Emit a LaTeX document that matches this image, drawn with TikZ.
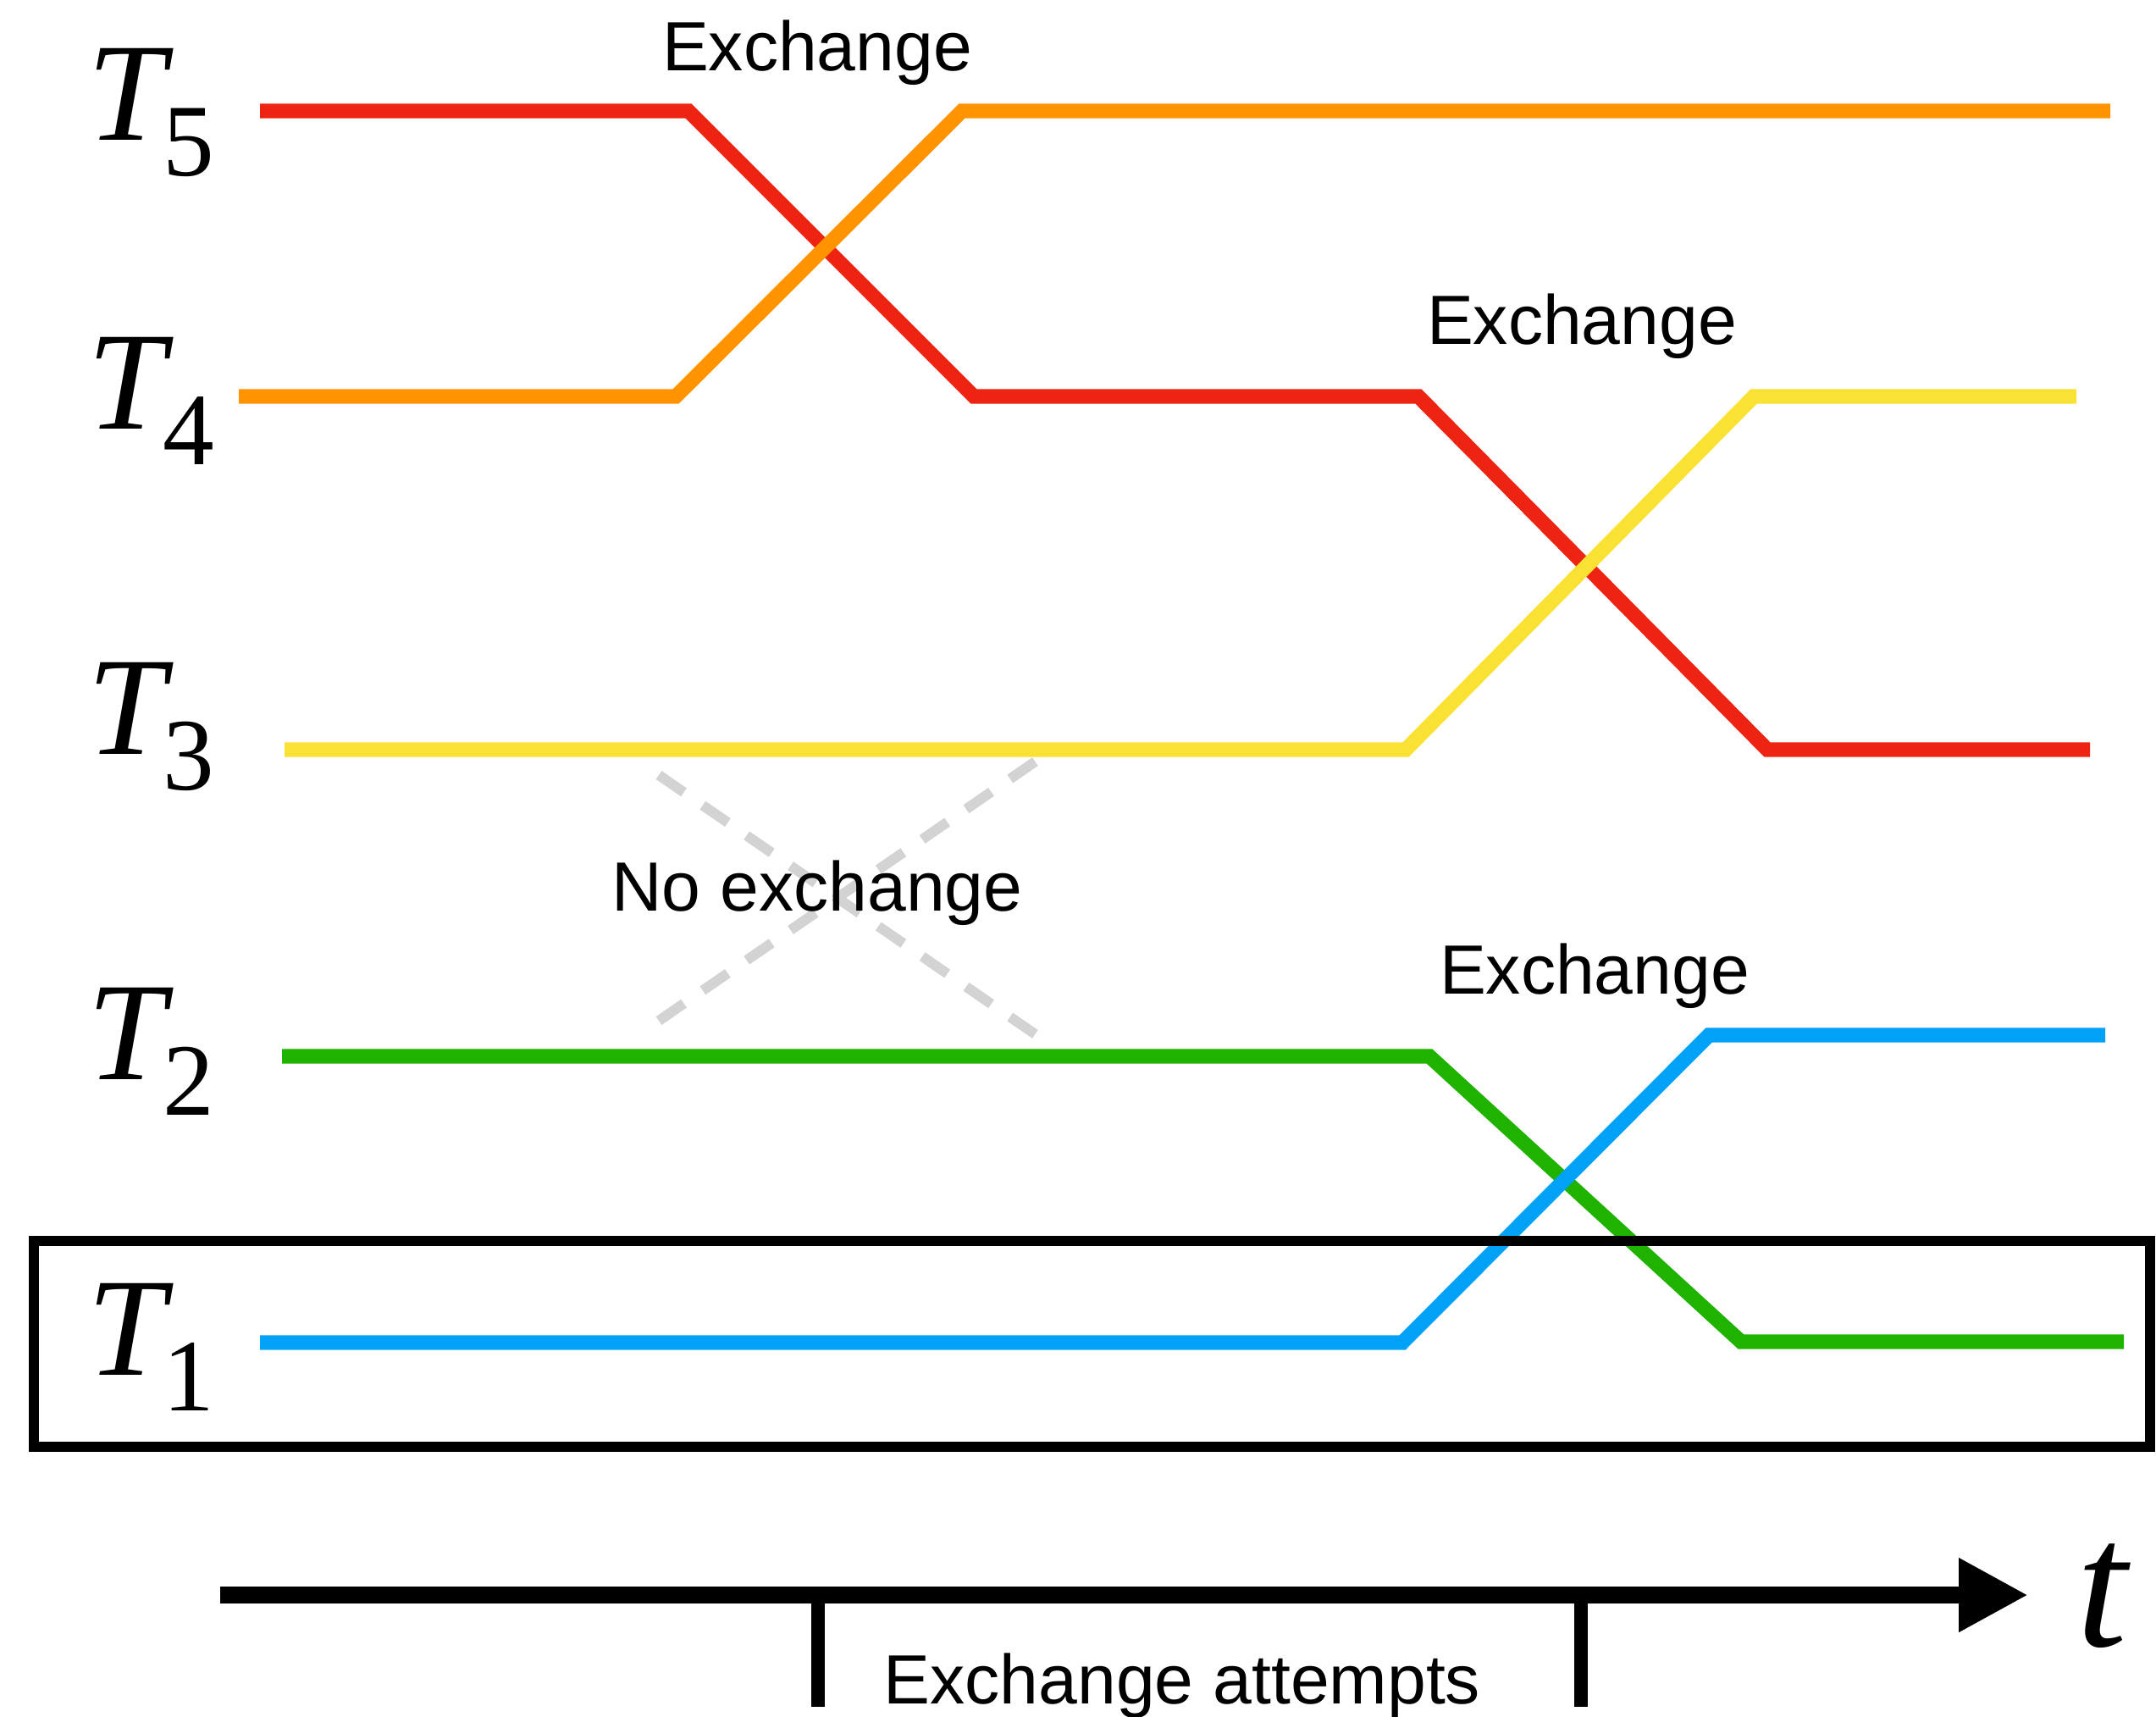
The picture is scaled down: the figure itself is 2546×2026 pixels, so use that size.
\documentclass[tikz,border=0pt]{standalone}
\usepackage{fontspec}
\setmainfont{Liberation Sans}
\newfontfamily\serifT{Liberation Serif}
\usetikzlibrary{arrows.meta}
\definecolor{cred}{HTML}{EE2412}
\definecolor{corange}{HTML}{FF9400}
\definecolor{cyellow}{HTML}{F9E233}
\definecolor{cgreen}{HTML}{1FB300}
\definecolor{cblue}{HTML}{00A2F8}
\definecolor{cgray}{HTML}{D3D3D3}
\newcommand\Tlab[1]{{\serifT\fontsize{47}{50}\selectfont\itshape T}\kern-1pt\raisebox{-12pt}{\serifT\fontsize{34.5}{38}\selectfont #1}}
\begin{document}
\begin{tikzpicture}[x=0.01cm,y=-0.01cm,
  trace/.style={line width=4.9pt},
  nox/.style={line width=3.4pt, cgray, dash pattern=on 10.2pt off 7.7pt},
  lbl/.style={inner sep=0pt, anchor=base, font=\fontsize{23.4}{27}\selectfont},
  tlbl/.style={inner sep=0pt, anchor=base west}]
\useasboundingbox (0,0) rectangle (2546,2026);
\fill[white] (0,0) rectangle (2546,2026);

% no-exchange dashed cross
\draw[nox] (778,915) -- (1224,1222);
\draw[nox] (778,1205) -- (1224,898);

% temperature traces
\draw[trace, cred] (307,131) -- (813,131) -- (1150,468) -- (1675,468) -- (2087,885) -- (2468,885);
\draw[trace, corange] (282,468) -- (798,468) -- (1136,131) -- (2492,131);
\draw[trace, cyellow] (336,885) -- (1660,885) -- (2071,468) -- (2452,468);
\draw[trace, cgreen] (333,1247) -- (1688,1247) -- (2056,1584) -- (2508,1584);
\draw[trace, cblue] (307,1585) -- (1656,1585) -- (2018,1222) -- (2486,1222);

% box around T1
\draw[line width=3.3pt, black] (40,1465) rectangle (2539,1708);

% time axis
\coordinate (axstart) at (260,1883);
\coordinate (axtip) at (2395,1883);
\draw[line width=5.7pt, -{Triangle[length=23.3pt,width=23.3pt]}] (axstart) -- (axtip);
\coordinate (tick1top) at (966,1883);
\coordinate (tick1bot) at (966,2015);
\coordinate (tick2top) at (1867,1883);
\coordinate (tick2bot) at (1867,2015);
\draw[line width=4.8pt] (tick1top) -- (tick1bot);
\draw[line width=4.8pt] (tick2top) -- (tick2bot);

% labels
\node[tlbl] (t5) at (103,165) {\Tlab{5}};
\node[tlbl] (t4) at (103,506) {\Tlab{4}};
\node[tlbl] (t3) at (103,890) {\Tlab{3}};
\node[tlbl] (t2) at (103,1274) {\Tlab{2}};
\node[tlbl] (t1) at (103,1623) {\Tlab{1}};
\node[tlbl] (tt) at (2452,1943) {\serifT\fontsize{61}{64}\selectfont\itshape t};

\node[lbl] (ex1) at (965,83) {Exchange};
\node[lbl] (ex2) at (1868,406) {Exchange};
\node[lbl] (ex3) at (1883,1173) {Exchange};
\node[lbl] (noex) at (965,1075) {No exchange};
\node[lbl] (attempts) at (1396,2011) {Exchange attempts};
\end{tikzpicture}
\end{document}
